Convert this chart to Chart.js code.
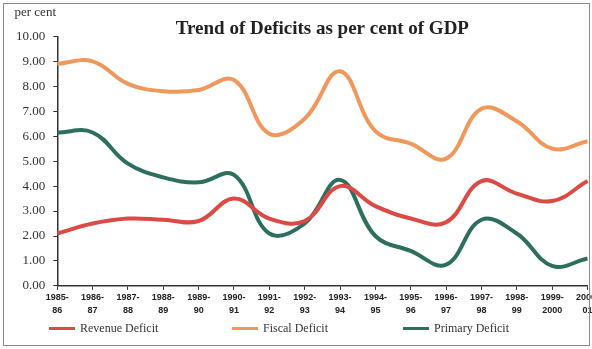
<!DOCTYPE html>
<html>
<head>
<meta charset="utf-8">
<script src="https://cdn.jsdelivr.net/npm/chart.js@4"></script>
<style>
  html, body { margin: 0; padding: 0; background: #fff; overflow: hidden; }
  #wrap { position: relative; width: 600px; height: 349px; }
  #frame { position: absolute; left: 3px; top: 3px; width: 585px; height: 341px;
           border: 1px solid #8a8a8a; pointer-events: none; }
  #legend { position: absolute; top: 319px; left: 0; width: 592px; height: 18px;
            font: 12px 'Liberation Serif', 'Times New Roman', serif; color: #333; }
  #legend .item { position: absolute; top: 0; white-space: nowrap; line-height: 18px; }
  #legend .swatch { display: inline-block; width: 26px; height: 3px; margin-right: 5px;
                    vertical-align: middle; position: relative; top: -1px; }
</style>
</head>
<body>
<div id="wrap">
  <canvas id="deficitChart" width="600" height="349"></canvas>
  <div id="legend"></div>
  <div id="frame"></div>
</div>
<script>
const years = [
    ['1985-', '86'], ['1986-', '87'], ['1987-', '88'], ['1988-', '89'],
    ['1989-', '90'], ['1990-', '91'], ['1991-', '92'], ['1992-', '93'],
    ['1993-', '94'], ['1994-', '95'], ['1995-', '96'], ['1996-', '97'],
    ['1997-', '98'], ['1998-', '99'], ['1999-', '2000'], ['2000-', '01']
];

const revenueDeficit = [2.1, 2.5, 2.7, 2.65, 2.6, 3.5, 2.7, 2.6, 4.0, 3.2, 2.7, 2.55, 4.2, 3.7, 3.4, 4.2];
const fiscalDeficit  = [8.9, 9.0, 8.1, 7.8, 7.85, 8.25, 6.1, 6.7, 8.6, 6.2, 5.7, 5.1, 7.1, 6.6, 5.5, 5.8];
const primaryDeficit = [6.15, 6.15, 4.9, 4.35, 4.15, 4.45, 2.1, 2.5, 4.25, 2.0, 1.4, 0.85, 2.65, 2.1, 0.8, 1.1];

const yTicks = [0, 1, 2, 3, 4, 5, 6, 7, 8, 9, 10];

const serif = "'Liberation Serif', 'Times New Roman', serif";
const narrow = "'Liberation Sans Narrow', 'Liberation Sans', Arial, sans-serif";

// where each legend entry starts (px from left)
const legendLeft = [49, 232, 403];

const line = (label, data, color) => ({
    label,
    data,
    borderColor: color,
    backgroundColor: color,
    borderWidth: 4,
    pointRadius: 0,
    tension: 0.4,
    fill: false,
});

const ctx = document.getElementById('deficitChart').getContext('2d');

const chart = new Chart(ctx, {
    type: 'line',
    data: {
        labels: years,
        datasets: [
            line('Revenue Deficit', revenueDeficit, '#dc4a45'),
            line('Fiscal Deficit', fiscalDeficit, '#f0975c'),
            line('Primary Deficit', primaryDeficit, '#2e6e5f'),
        ]
    },
    options: {
        animation: false,
        responsive: false,
        layout: { padding: { left: 8, right: 0, top: 5, bottom: 31 } },
        plugins: {
            title: {
                display: true,
                text: '  per cent',
                align: 'start',
                color: '#333',
                font: { family: serif, size: 13, weight: 'normal' },
                padding: { top: 0, bottom: 0 }
            },
            subtitle: {
                display: true,
                text: 'Trend of Deficits as per cent of GDP',
                fullSize: false,
                color: '#222',
                font: { family: serif, size: 19, weight: 'bold' },
                padding: { top: -3, bottom: -4 }
            },
            legend: { display: false },
            tooltip: { enabled: false }
        },
        scales: {
            x: {
                offset: false,
                grid: { display: true, drawOnChartArea: false, color: '#333', tickLength: 4 },
                border: { color: '#333', width: 1.5 },
                ticks: {
                    autoSkip: false,
                    maxRotation: 0,
                    color: '#222',
                    padding: 1,
                    font: { family: narrow, size: 9, weight: 'bold', lineHeight: 1.45 }
                }
            },
            y: {
                min: 0,
                max: 10,
                afterBuildTicks: axis => { axis.ticks = yTicks.map(v => ({ value: v })); },
                grid: { display: true, drawOnChartArea: false, color: '#333', tickLength: 4 },
                border: { color: '#333', width: 1.5 },
                ticks: {
                    autoSkip: false,
                    color: '#333',
                    padding: 8,
                    font: { family: serif, size: 13 },
                    callback: v => v.toFixed(2)
                }
            }
        }
    }
});

// html legend built from the chart's datasets
const legendBox = document.getElementById('legend');
chart.data.datasets.forEach((ds, i) => {
    const item = document.createElement('span');
    item.className = 'item';
    item.style.left = legendLeft[i] + 'px';
    const sw = document.createElement('span');
    sw.className = 'swatch';
    sw.style.background = ds.borderColor;
    item.appendChild(sw);
    item.appendChild(document.createTextNode(ds.label));
    legendBox.appendChild(item);
});
</script>
</body>
</html>
